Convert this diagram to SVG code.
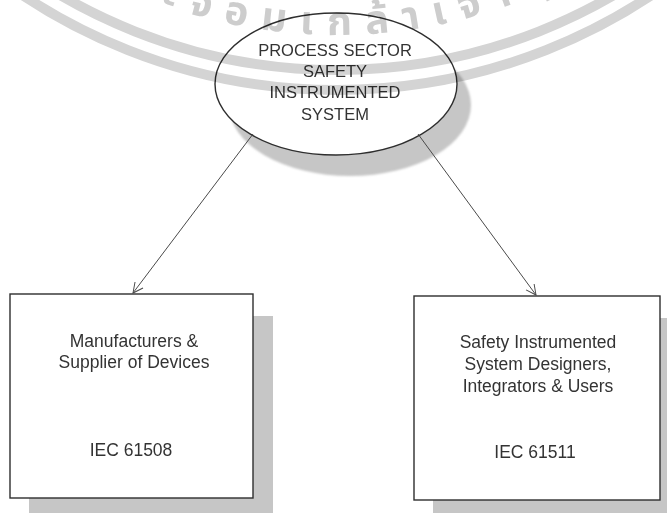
<svg xmlns="http://www.w3.org/2000/svg" width="667" height="513" viewBox="0 0 667 513">
<style>
.shadow{fill:#c6c6c6}
.node{fill:#fff;stroke:#2e2e2e;stroke-width:1.4}
.lbl{font-family:"Liberation Sans",Arial,sans-serif;font-size:17.5px;fill:#333;text-anchor:middle}
.elbl{font-size:16.5px}
.conn{stroke:#4a4a4a;stroke-width:1;fill:none;marker-end:url(#arr)}
.band{fill:none;stroke:#d4d4d4;stroke-width:10}
.wm{mix-blend-mode:multiply}
.thai{font-family:"Noto Sans Thai","Noto Sans Thai UI","Noto Sans",sans-serif;font-size:40px;font-weight:bold;fill:#cdcdcd;letter-spacing:14px}
</style>
<defs>
<marker id="arr" markerWidth="12" markerHeight="12" refX="11" refY="6" orient="auto" markerUnits="userSpaceOnUse">
<path d="M1,1 L11,6 L1,11" fill="none" stroke="#4a4a4a" stroke-width="1"/>
</marker>
<path id="wmArc" d="M -176,-478 A 513 513 0 0 0 850,-478"/>
<filter id="soft" x="-10%" y="-10%" width="120%" height="120%"><feGaussianBlur stdDeviation="1.2"/></filter>
</defs>
<rect width="667" height="513" fill="#fff"/>
<g id="pss">
<ellipse class="shadow" filter="url(#soft)" cx="350" cy="105" rx="121" ry="71"/>
<ellipse class="node" stroke-width="1.1" cx="336" cy="84" rx="121" ry="71"/>
<text class="lbl elbl" x="335" y="56">PROCESS SECTOR</text>
<text class="lbl elbl" x="335" y="77">SAFETY</text>
<text class="lbl elbl" x="335" y="98">INSTRUMENTED</text>
<text class="lbl elbl" x="335" y="120">SYSTEM</text>
</g>
<g id="manufacturers">
<rect class="shadow" x="29" y="316" width="244" height="204"/>
<rect class="node" x="10" y="294" width="243" height="204"/>
<text class="lbl" x="134" y="347">Manufacturers &amp;</text>
<text class="lbl" x="134" y="368">Supplier of Devices</text>
<text class="lbl" x="131" y="456">IEC 61508</text>
</g>
<g id="designers">
<rect class="shadow" x="433" y="318" width="246" height="204"/>
<rect class="node" x="414" y="296" width="246" height="204"/>
<text class="lbl" x="538" y="348">Safety Instrumented</text>
<text class="lbl" x="538" y="370">System Designers,</text>
<text class="lbl" x="538" y="392">Integrators &amp; Users</text>
<text class="lbl" x="535" y="458">IEC 61511</text>
</g>
<g id="connectors">
<line class="conn" x1="253" y1="134" x2="133" y2="293"/>
<line class="conn" x1="418" y1="134" x2="536" y2="295"/>
</g>
<g id="watermark" class="wm">
<circle class="band" cx="337" cy="-478" r="548"/>
<circle class="band" cx="337" cy="-478" r="568"/>
<text class="thai"><textPath href="#wmArc" startOffset="626">ะจอมเกล้าเจ้าคุ</textPath></text>
</g>
</svg>
